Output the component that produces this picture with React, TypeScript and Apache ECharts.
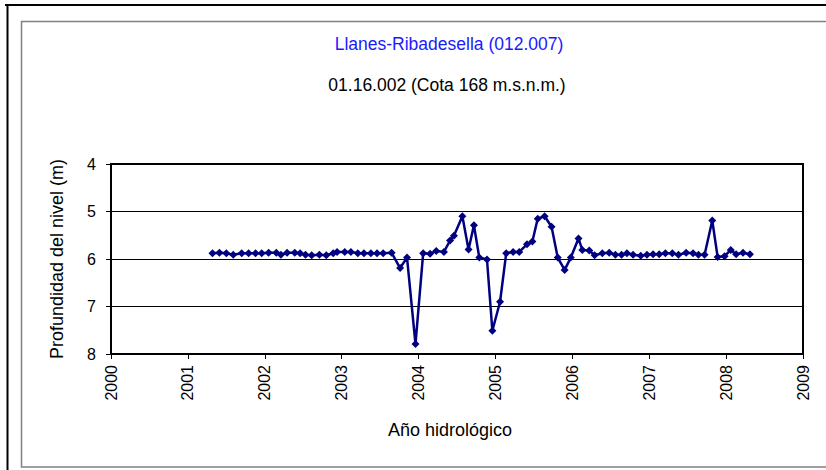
import React, { useEffect, useRef } from "react";
import * as echarts from "echarts";

const titleText = "Llanes-Ribadesella (012.007)";
const subtitleText = "01.16.002 (Cota 168 m.s.n.m.)";
const yAxisName = "Profundidad del nivel (m)";
const xAxisName = "Año hidrológico";

// decimal year of each measurement
const years = [
  2001.32, 2001.41, 2001.5, 2001.59, 2001.7, 2001.79, 2001.88, 2001.96,
  2002.05, 2002.15, 2002.21, 2002.29, 2002.39, 2002.46, 2002.53, 2002.61,
  2002.71, 2002.8, 2002.89, 2002.94, 2003.04, 2003.12, 2003.21, 2003.29,
  2003.38, 2003.46, 2003.54, 2003.65, 2003.76, 2003.85, 2003.96, 2004.06,
  2004.15, 2004.23, 2004.33, 2004.41, 2004.46, 2004.57, 2004.65, 2004.72,
  2004.79, 2004.89, 2004.96, 2005.06, 2005.14, 2005.23, 2005.31, 2005.41,
  2005.48, 2005.55, 2005.64, 2005.73, 2005.81, 2005.9, 2005.98, 2006.08,
  2006.13, 2006.22, 2006.29, 2006.39, 2006.48, 2006.56, 2006.64, 2006.71,
  2006.79, 2006.89, 2006.97, 2007.05, 2007.13, 2007.21, 2007.3, 2007.38,
  2007.48, 2007.57, 2007.64, 2007.72, 2007.82, 2007.89, 2007.98, 2008.06,
  2008.13, 2008.22, 2008.31,
];

// depth of the water level (m)
const depths = [
  5.88, 5.87, 5.88, 5.91, 5.88, 5.88, 5.88, 5.88,
  5.87, 5.87, 5.91, 5.87, 5.87, 5.88, 5.91, 5.92,
  5.91, 5.92, 5.88, 5.85, 5.85, 5.85, 5.88, 5.88,
  5.88, 5.88, 5.88, 5.87, 6.19, 5.97, 7.79, 5.88,
  5.89, 5.83, 5.85, 5.61, 5.51, 5.1, 5.8, 5.29,
  5.97, 6.01, 7.51, 6.9, 5.88, 5.85, 5.85, 5.69,
  5.63, 5.15, 5.1, 5.32, 5.97, 6.23, 5.97, 5.57,
  5.81, 5.82, 5.92, 5.88, 5.87, 5.91, 5.91, 5.88,
  5.91, 5.93, 5.91, 5.9, 5.9, 5.88, 5.88, 5.91,
  5.87, 5.88, 5.91, 5.91, 5.19, 5.96, 5.94, 5.81,
  5.9, 5.87, 5.9,
];

const FONT = "'Liberation Sans', Arial, sans-serif";

export default function App() {
  const ref = useRef<HTMLDivElement>(null);
  useEffect(() => {
    if (!ref.current) return;
    const chart = echarts.init(ref.current, null, { renderer: "svg" });
    const data = years.map((y, i) => [y, depths[i]]);
    chart.setOption({
      animation: false,
      backgroundColor: "#ffffff",
      textStyle: { fontFamily: FONT },
      title: [
        {
          text: titleText,
          left: 444,
          top: 30,
          textAlign: "center",
          textStyle: { color: "#1a1aff", fontSize: 17.5, fontWeight: "normal", fontFamily: FONT },
        },
        {
          text: subtitleText,
          left: 442,
          top: 71,
          textAlign: "center",
          textStyle: { color: "#000000", fontSize: 17.5, fontWeight: "normal", fontFamily: FONT },
        },
      ],
      graphic: [
        {
          type: "line",
          shape: { x1: 5, y1: 5, x2: 830, y2: 5 },
          style: { stroke: "#000", lineWidth: 2 },
          z: 10,
        },
        {
          type: "line",
          shape: { x1: 7.5, y1: 4, x2: 7.5, y2: 472 },
          style: { stroke: "#000", lineWidth: 2 },
          z: 10,
        },
        {
          type: "rect",
          shape: { x: 21.5, y: 21.5, width: 820, height: 445.5 },
          style: { fill: "none", stroke: "#808080", lineWidth: 1.5 },
          z: 10,
        },
      ],
      grid: {
        left: 111,
        top: 164,
        width: 692,
        height: 190,
        show: true,
        borderColor: "#000",
        borderWidth: 2,
        backgroundColor: "transparent",
      },
      xAxis: {
        type: "value",
        min: 2000,
        max: 2009,
        interval: 1,
        name: xAxisName,
        nameLocation: "middle",
        nameGap: 67,
        nameTextStyle: { color: "#000", fontSize: 18, fontFamily: FONT, padding: [0, 14, 0, 0] },
        axisLine: { show: true, lineStyle: { color: "#000", width: 2 } },
        axisTick: { show: true, length: 5, lineStyle: { color: "#000", width: 1 } },
        axisLabel: {
          rotate: 90,
          color: "#000",
          fontSize: 16,
          fontFamily: FONT,
          margin: 11,
          formatter: (v: number) => String(v),
        },
        splitLine: { show: false },
      },
      yAxis: {
        type: "value",
        inverse: true,
        min: 4,
        max: 8,
        interval: 1,
        name: yAxisName,
        nameLocation: "middle",
        nameGap: 45,
        nameTextStyle: { color: "#000", fontSize: 18, fontFamily: FONT },
        axisLine: { show: true, lineStyle: { color: "#000", width: 2 } },
        axisTick: { show: true, length: 5, lineStyle: { color: "#000", width: 1 } },
        axisLabel: { color: "#000", fontSize: 16, fontFamily: FONT, margin: 15 },
        splitLine: { show: true, lineStyle: { color: "#000", width: 1 } },
      },
      series: [
        {
          type: "line",
          data,
          symbol: "diamond",
          symbolSize: 8,
          lineStyle: { color: "#000080", width: 2.5 },
          itemStyle: { color: "#000080" },
        },
      ],
    });
    return () => chart.dispose();
  }, []);
  return (
    <div
      ref={ref}
      style={{ position: "fixed", left: 0, top: 0, width: 826, height: 470 }}
    />
  );
}
